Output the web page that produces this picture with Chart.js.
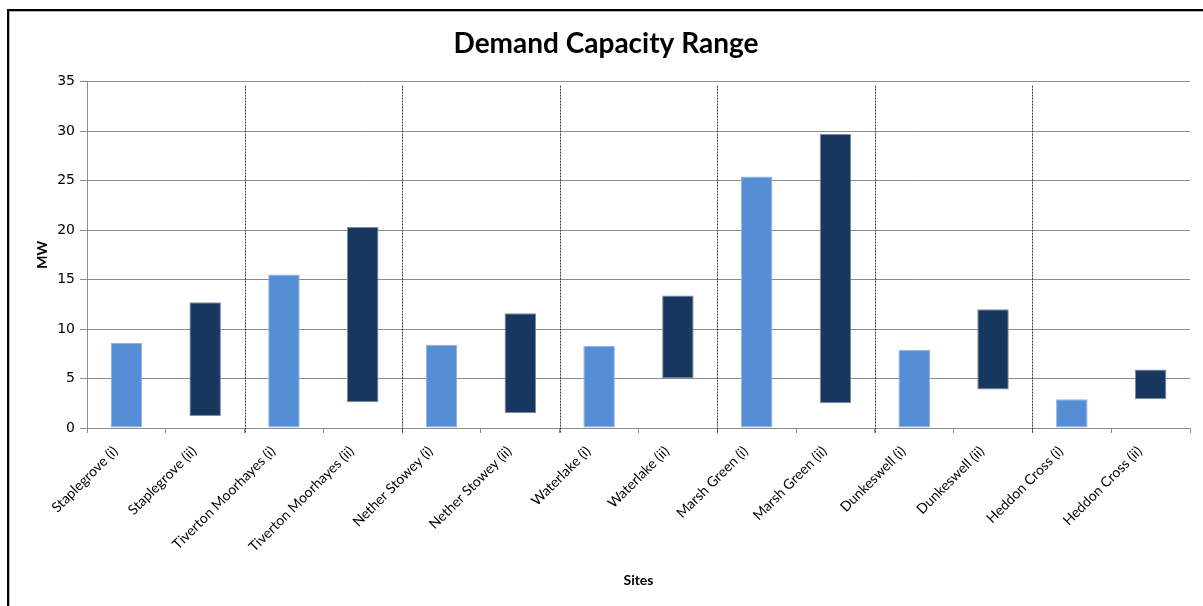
<!DOCTYPE html>
<html>
<head>
<meta charset="utf-8">
<title>Demand Capacity Range</title>
<script src="https://cdn.jsdelivr.net/npm/chart.js@4.4.1/dist/chart.umd.min.js"></script>
<style>
  html, body { margin: 0; padding: 0; background: #fff; }
  body { width: 1203px; height: 606px; position: relative; overflow: hidden; }
  #frame {
    position: absolute; left: 7px; top: 9px; width: 1300px; height: 700px;
    border-left: 2px solid #000; border-top: 2px solid #000;
  }
  #frame::after {
    content: ""; position: absolute; left: 0; top: 0; right: 0; bottom: 0;
    border-left: 1px solid #b5b5b5; border-top: 1px solid #b5b5b5;
  }
  #wrap { position: absolute; left: 0; top: 0; width: 1203px; height: 606px; }
</style>
</head>
<body>
<div id="frame"></div>
<div id="wrap"><canvas id="chart" width="1203" height="606"></canvas></div>
<script>
// Sites, in display order
const sites = ['Staplegrove', 'Tiverton Moorhayes', 'Nether Stowey', 'Waterlake', 'Marsh Green', 'Dunkeswell', 'Heddon Cross'];
// Category labels on the x axis (two per site)
const categories = [
  'Staplegrove (i)', 'Staplegrove (ii)',
  'Tiverton Moorhayes (i)', 'Tiverton Moorhayes (ii)',
  'Nether Stowey (i)', 'Nether Stowey (ii)',
  'Waterlake (i)', 'Waterlake (ii)',
  'Marsh Green (i)', 'Marsh Green (ii)',
  'Dunkeswell (i)', 'Dunkeswell (ii)',
  'Heddon Cross (i)', 'Heddon Cross (ii)'
];
// (i): demand capacity from zero, MW
const demandI = [8.6, 15.5, 8.4, 8.3, 25.4, 7.9, 2.9];
// (ii): demand capacity range, MW
const rangeLowII  = [1.2, 2.6, 1.5, 5.0, 2.5, 3.9, 2.9];
const rangeHighII = [12.7, 20.3, 11.6, 13.4, 29.7, 12.0, 5.9];
// y axis ticks
const yTicks = [0, 5, 10, 15, 20, 25, 30, 35];

const LIGHT = '#558ed5';
const DARK = '#17375e';

// One floating bar per category: (i) from 0, (ii) from low to high
const barData = [];
const barColors = [];
const barBorders = [];
sites.forEach((s, i) => {
  barData.push([0, demandI[i]]);
  barColors.push(LIGHT);
  barBorders.push('#8fb4e3');
  barData.push([rangeLowII[i], rangeHighII[i]]);
  barColors.push(DARK);
  barBorders.push('#7d8da3');
});

// Dotted dividers between sites, placed on the category scale
const siteDividers = {
  id: 'siteDividers',
  beforeDatasetsDraw(chart) {
    const x = chart.scales.x, y = chart.scales.y;
    const ctx = chart.ctx;
    ctx.save();
    ctx.strokeStyle = '#3a3a3a';
    ctx.lineWidth = 1;
    ctx.setLineDash([2, 1]);
    for (let i = 2; i < categories.length; i += 2) {
      const px = Math.round((x.getPixelForTick(i - 1) + x.getPixelForTick(i)) / 2) + 0.5;
      ctx.beginPath();
      ctx.moveTo(px, y.top + 4);
      ctx.lineTo(px, y.bottom + 5);
      ctx.stroke();
    }
    ctx.restore();
  }
};

new Chart(document.getElementById('chart'), {
  type: 'bar',
  data: {
    labels: categories,
    datasets: [{
      label: 'MW',
      data: barData,
      backgroundColor: barColors,
      borderColor: barBorders,
      borderWidth: 1,
      borderSkipped: false,
      categoryPercentage: 1,
      barPercentage: 0.4
    }]
  },
  options: {
    responsive: false,
    animation: false,
    layout: { padding: { left: 22, right: 13, top: 15, bottom: 0 } },
    plugins: {
      legend: { display: false },
      tooltip: { enabled: false },
      title: {
        display: true,
        text: 'Demand Capacity Range',
        color: '#000',
        font: { family: 'Lato', size: 28, weight: 'bold' },
        padding: { top: 12, bottom: 21 }
      }
    },
    scales: {
      x: {
        grid: {
          drawOnChartArea: false,
          drawTicks: true,
          tickLength: 5,
          tickColor: '#8c8c8c',
          offset: true
        },
        border: { display: true, color: '#8c8c8c' },
        ticks: {
          color: '#000',
          font: { family: 'Lato', size: 14 },
          minRotation: 45,
          maxRotation: 45,
          autoSkip: false,
          padding: 10,
          labelOffset: -11
        },
        title: {
          display: true,
          text: 'Sites',
          color: '#000',
          font: { family: 'Lato', size: 14, weight: 'bold' },
          padding: { top: 0, bottom: 17 }
        },
        afterFit(scale) { scale.height = 178; }
      },
      y: {
        min: 0,
        max: 35,
        afterBuildTicks(scale) { scale.ticks = yTicks.map(v => ({ value: v })); },
        grid: {
          color: '#8c8c8c',
          drawTicks: true,
          tickLength: 7,
          tickColor: '#8c8c8c'
        },
        border: { display: true, color: '#8c8c8c' },
        ticks: {
          color: '#000',
          font: { family: 'DejaVu Sans', size: 14 },
          padding: 5
        },
        title: {
          display: true,
          text: 'MW',
          color: '#000',
          font: { family: 'Lato', size: 14, weight: 'bold' },
          padding: { top: 12, bottom: 0 }
        },
        afterFit(scale) { scale.width = 65; }
      }
    }
  },
  plugins: [siteDividers]
});
</script>
</body>
</html>
